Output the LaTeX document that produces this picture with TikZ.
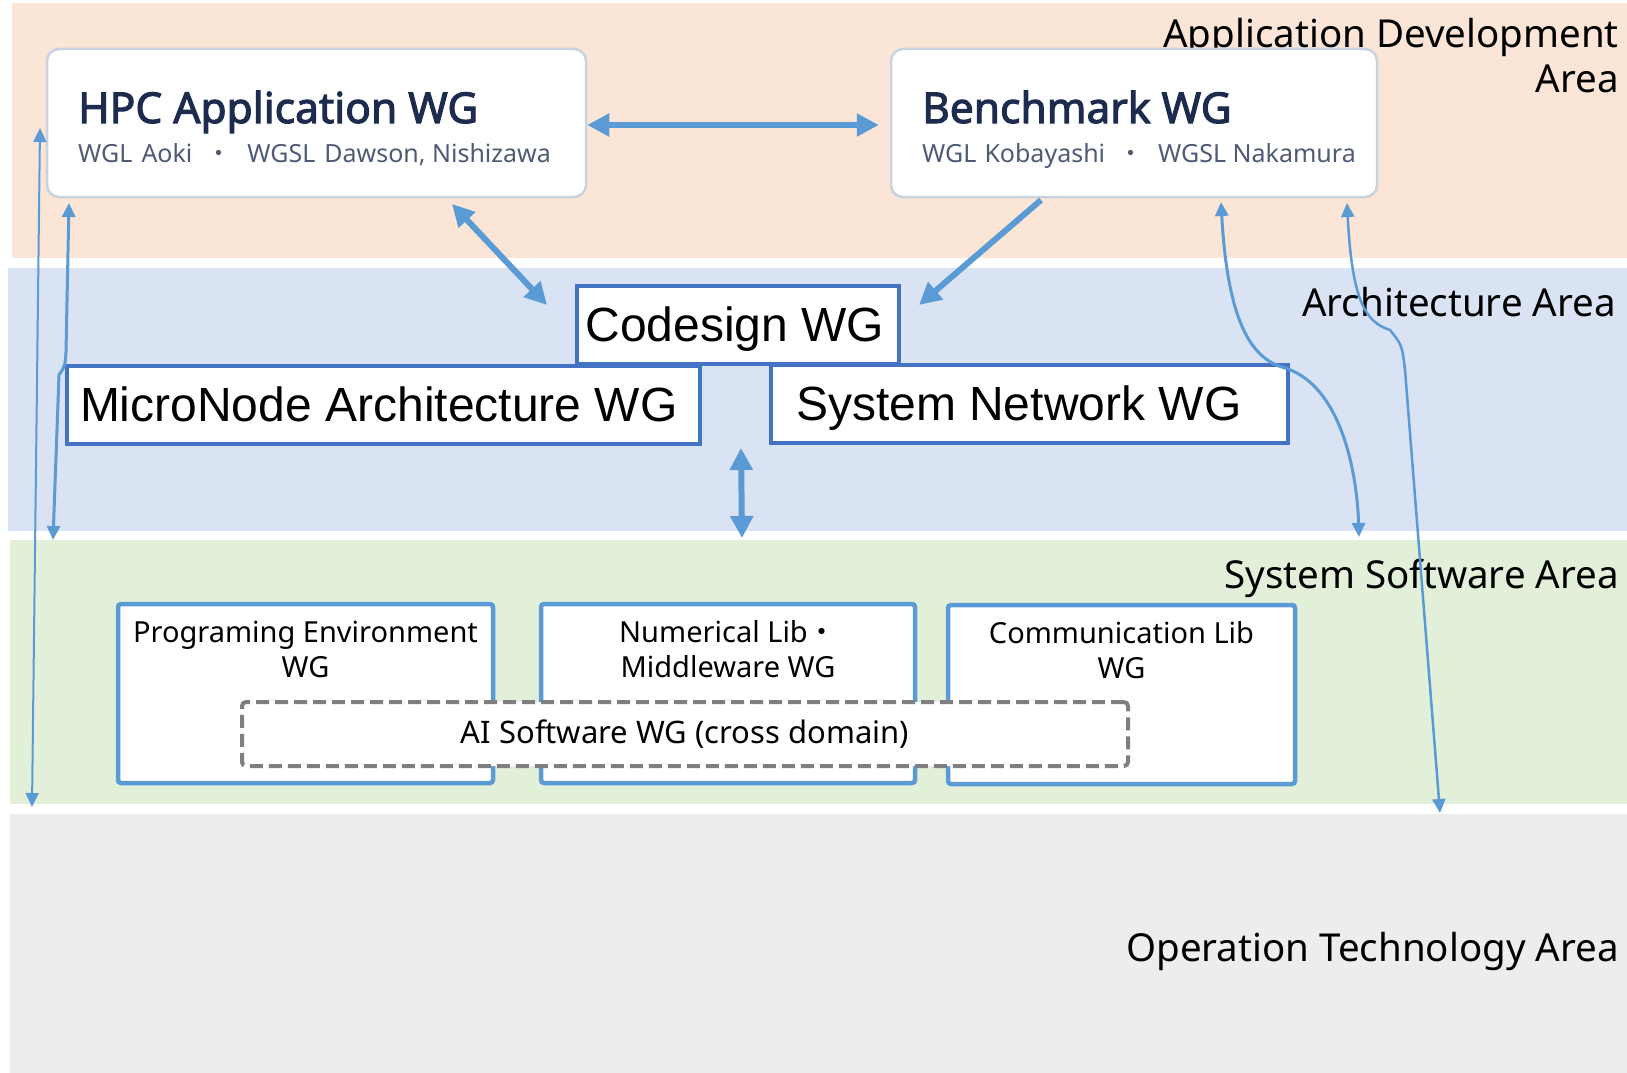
\documentclass[tikz,border=0pt]{standalone}
\usepackage{fontspec}
\setmainfont{Noto Sans}
\newfontfamily\titlefont{Noto Sans}[AutoFakeBold=2.5]
\newfontfamily\arialfont{Liberation Sans}
\newfontfamily\cjk{Noto Sans CJK JP}
\usetikzlibrary{arrows.meta}
\usetikzlibrary{positioning}

\definecolor{apporange}{HTML}{FBE5D6}
\definecolor{archband}{HTML}{DAE3F3}
\definecolor{swband}{HTML}{E2F0D9}
\definecolor{opband}{HTML}{EDEDED}
\definecolor{linkblue}{HTML}{5B9BD5}
\definecolor{archblue}{HTML}{4472C4}
\definecolor{cardline}{HTML}{C9D2E0}
\definecolor{titlenavy}{HTML}{1C2B4E}
\definecolor{subgray}{HTML}{4E5A76}
\definecolor{aigray}{HTML}{7F7F7F}

% left-set name in a box of given width
\newcommand{\wgname}[2]{\makebox[#1][l]{#2}}

\tikzset{
  arealabel/.style={anchor=east, inner sep=0pt, align=right, font=\fontsize{38.5}{45}\selectfont},
  wgcard/.style={draw=cardline, line width=2.5pt, fill=white, rounded corners=12pt},
  cardtitle/.style={anchor=base west, inner sep=0pt, text=titlenavy, font=\titlefont\bfseries\fontsize{42.5}{48}\selectfont},
  cardsub/.style={anchor=base west, inner sep=0pt, text=subgray, font=\fontsize{25}{30}\selectfont},
  archbox/.style={draw=archblue, line width=4pt, fill=white, minimum height=78pt, inner ysep=0pt, text height=38pt, text depth=5pt, font=\arialfont\fontsize{48}{56}\selectfont},
  libbox/.style={draw=linkblue, line width=4.5pt, fill=white, rounded corners=3pt, minimum height=179pt},
  libtext/.style={inner sep=0pt, align=center, font=\fontsize{29}{35}\selectfont},
  aibox/.style={draw=aigray, line width=4pt, dash pattern=on 13pt off 6pt, fill=white, rounded corners=4pt, font=\fontsize{31}{35}\selectfont},
  bigarrow/.style={draw=linkblue, line width=6pt, -{Triangle[width=22pt,length=22pt]}},
  bothbig/.style={bigarrow, {Triangle[width=22pt,length=22pt]}-{Triangle[width=22pt,length=22pt]}},
  thinlink/.style={draw=linkblue, line width=3pt, {Triangle[width=13pt,length=14pt]}-{Triangle[width=13pt,length=14pt]}},
}

\begin{document}
\begin{tikzpicture}[x=1pt,y=-1pt]
    \useasboundingbox (0,0) rectangle (1627,1073);
    \fill[white] (0,0) rectangle (1627,1073);

    % areas
    \fill[apporange] (12,3) rectangle (1627,258);
    \fill[archband] (8,268) rectangle (1627,531);
    \fill[swband] (10,540) rectangle (1627,804);
    \fill[opband] (10,814) rectangle (1627,1073);

    \node[arealabel] (appArea) at (1619,56) {Application Development\\Area};
    \node[arealabel] (archArea) at (1616,302) {Architecture Area};
    \node[arealabel] (swArea) at (1619,578) {System Software Area};
    \node[arealabel] (opArea) at (1619,951) {Operation Technology Area};

    % application WGs
    \node[wgcard, minimum width=539pt, minimum height=148pt] (hpc) at (316.5,123) {};
    \node[cardtitle] (hpcTitle) at (78,123) {HPC Application WG};
    \node[cardsub] (hpcSub) at (78,162) {WGL\hspace{9pt}Aoki\hspace{14pt}{\cjk ・}\hspace{16pt}WGSL\hspace{9pt}Dawson, Nishizawa};

    \node[wgcard, minimum width=486pt, minimum height=148pt] (bench) at (1134,123) {};
    \node[cardtitle] (benchTitle) at (922,123) {Benchmark WG};
    \node[cardsub] (benchSub) at (922,162) {WGL\hspace{8pt}Kobayashi\hspace{13pt}{\cjk ・}\hspace{15pt}WGSL Nakamura};

    % architecture WGs
    \node[archbox, inner xsep=8.5pt] (codesign) at (738,325) {\wgname{305pt}{Codesign WG}};
    \node[archbox, inner xsep=13pt] (micronode) at (383.5,404.5) {\wgname{607pt}{MicroNode Architecture WG}};
    \node[archbox, inner xsep=25pt] (sysnet) at (1029.5,403.5) {\wgname{467pt}{System Network WG}};

    % system software WGs
    \node[libbox, minimum width=375pt] (progenv) at (305.5,693.5) {};
    \node[libtext, below=19pt of progenv.north] (progenvText) {Programing Environment\\WG};
    \node[libbox, minimum width=374pt] (numlib) at (728,693.5) {};
    \node[libtext, below=19pt of numlib.north] (numlibText) {Numerical Lib{\cjk ・}\\Middleware WG};
    \node[libbox, minimum width=347pt] (commlib) at (1121.5,694.5) {};
    \node[libtext, below=19pt of commlib.north] (commlibText) {Communication Lib\\WG};
    \node[aibox, minimum width=886pt, minimum height=64pt] (aisw) at (685,734) {AI Software WG (cross domain)};

    % link ends
    \coordinate (hpcLow) at (452,204);
    \coordinate (cdLeft) at (547,305);
    \coordinate (benchLow) at (1041,200);
    \coordinate (cdRight) at (919,305);
    \coordinate (archGap) at (741,448);
    \coordinate (swTop) at (742,538);
    \coordinate (opLeftTop) at (40,128);
    \coordinate (opLeftBot) at (32,807);
    \coordinate (hpcFoot) at (69,203);
    \coordinate (swLeft) at (53,540);
    \coordinate (benchFootA) at (1221,202);
    \coordinate (swRight) at (1359,537);
    \coordinate (benchFootB) at (1347,203);
    \coordinate (opRight) at (1440,813);

    % links
    \draw[bothbig, shorten >=11pt] ([yshift=-2pt]hpc.east) -- ([yshift=-2pt]bench.west);
    \draw[bothbig] (hpcLow) -- (cdLeft);
    \draw[bigarrow] (benchLow) -- (cdRight);
    \draw[bothbig] (archGap) -- (swTop);
    \draw[thinlink, line width=2pt] (opLeftTop) -- (opLeftBot);
    \draw[thinlink] (hpcFoot) -- (66,352) .. controls (65,366) .. (59,375) -- (swLeft);
    \draw[thinlink] (benchFootA) .. controls (1228,330) and (1255,360) .. (1285,368)
        .. controls (1340,385) and (1357,470) .. (swRight);
    \draw[thinlink, line width=2.5pt] (benchFootB) .. controls (1352,300) and (1365,322) .. (1390,330)
        .. controls (1402,345) .. (1405,370) -- (opRight);
\end{tikzpicture}
\end{document}
